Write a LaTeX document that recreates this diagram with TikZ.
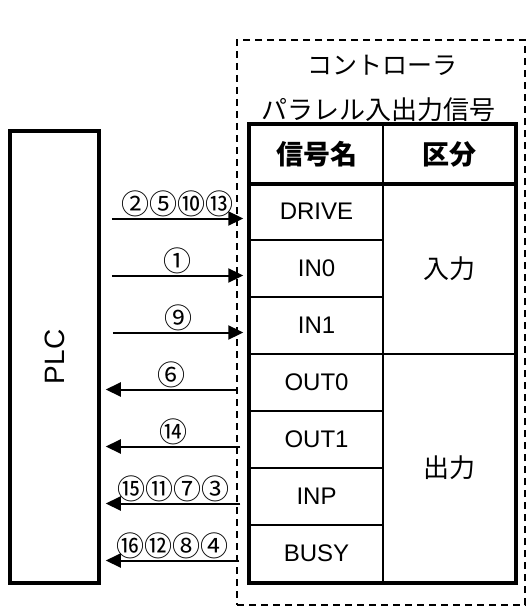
\documentclass[tikz,border=0pt]{standalone}
\usepackage{fontspec}
\setmainfont{Liberation Sans}
\newfontfamily\jpfont{Noto Sans CJK JP}
\usetikzlibrary{arrows.meta,calc}

\begin{document}
\begin{tikzpicture}[x=1pt,y=-1pt,
  plcbox/.style={draw, line width=3.5pt, minimum width=452pt, minimum height=89pt, inner sep=0pt, font=\fontsize{28}{30}\selectfont},
  ctlbox/.style={draw, line width=1.4pt, dash pattern=on 7pt off 5pt, minimum width=288pt, minimum height=565pt, inner sep=0pt},
  title/.style={font=\jpfont\fontsize{25}{28}\selectfont, inner sep=0pt},
  head/.style={draw, line width=2pt, minimum height=58pt, inner sep=0pt, font=\jpfont\bfseries\fontsize{27}{28}\selectfont},
  signal/.style={draw, line width=2pt, minimum width=133pt, minimum height=57pt, inner sep=0pt, font=\fontsize{24}{26}\selectfont},
  group/.style={draw, line width=2pt, minimum width=132pt, inner sep=0pt, font=\jpfont\fontsize{26}{28}\selectfont},
  sig/.style={line width=2pt, -{Triangle[length=15pt,width=14pt]}},
  num/.style={above, inner sep=1pt, font=\jpfont\fontsize{28}{30}\selectfont}
]
\useasboundingbox (0,0) rectangle (528,607);
% PLC side
\node[plcbox, rotate=90] (plc) at (54.5,357) {PLC};
% controller (dashed)
\node[ctlbox] (ctl) at (381,322.5) {};
\node[title] (ttl) at (382,65) {コントローラ};
\node[title, font=\jpfont\fontsize{26}{28}\selectfont] (sub) at (378,110) {パラレル入出力信号};
% table header
\node[head, minimum width=133pt] (hname) at (316.5,154) {信号名};
\node[head, minimum width=132pt] (hkind) at (449,154) {区分};
% signal names
\node[signal] (drive) at (316.5,211.5) {DRIVE};
\node[signal] (in0) at (316.5,268.5) {IN0};
\node[signal] (in1) at (316.5,325.5) {IN1};
\node[signal] (out0) at (316.5,382.5) {OUT0};
\node[signal] (out1) at (316.5,439.5) {OUT1};
\node[signal] (inp) at (316.5,496.5) {INP};
\node[signal] (busy) at (316.5,553.5) {BUSY};
% groups
\node[group, minimum height=171pt] (gin) at (449,268.5) {入力};
\node[group, minimum height=228pt] (gout) at (449,468) {出力};
\draw[line width=4pt] (hname.north west) rectangle (gout.south east);
\draw[line width=3pt] (hname.south west) -- (hkind.south east);
% inputs
\draw[sig] ($(plc.south |- drive)+(11,7)$) -- node[num]{②⑤⑩⑬} ($(ctl.west |- drive)+(7,7)$);
\draw[sig] ($(plc.south |- in0)+(11,7)$) -- node[num]{①} ($(ctl.west |- in0)+(7,7)$);
\draw[sig] ($(plc.south |- in1)+(12,7)$) -- node[num]{⑨} ($(ctl.west |- in1)+(7,7)$);
% outputs
\draw[sig] ($(ctl.west |- out0)+(1,7)$) -- node[num]{⑥} ($(plc.south |- out0)+(5,7)$);
\draw[sig] ($(ctl.west |- out1)+(4,7)$) -- node[num]{⑭} ($(plc.south |- out1)+(5,7)$);
\draw[sig] ($(ctl.west |- inp)+(4,7)$) -- node[num]{⑮⑪⑦③} ($(plc.south |- inp)+(5,7)$);
\draw[sig] ($(ctl.west |- busy)+(3,7)$) -- node[num]{⑯⑫⑧④} ($(plc.south |- busy)+(5,7)$);
\end{tikzpicture}
\end{document}
